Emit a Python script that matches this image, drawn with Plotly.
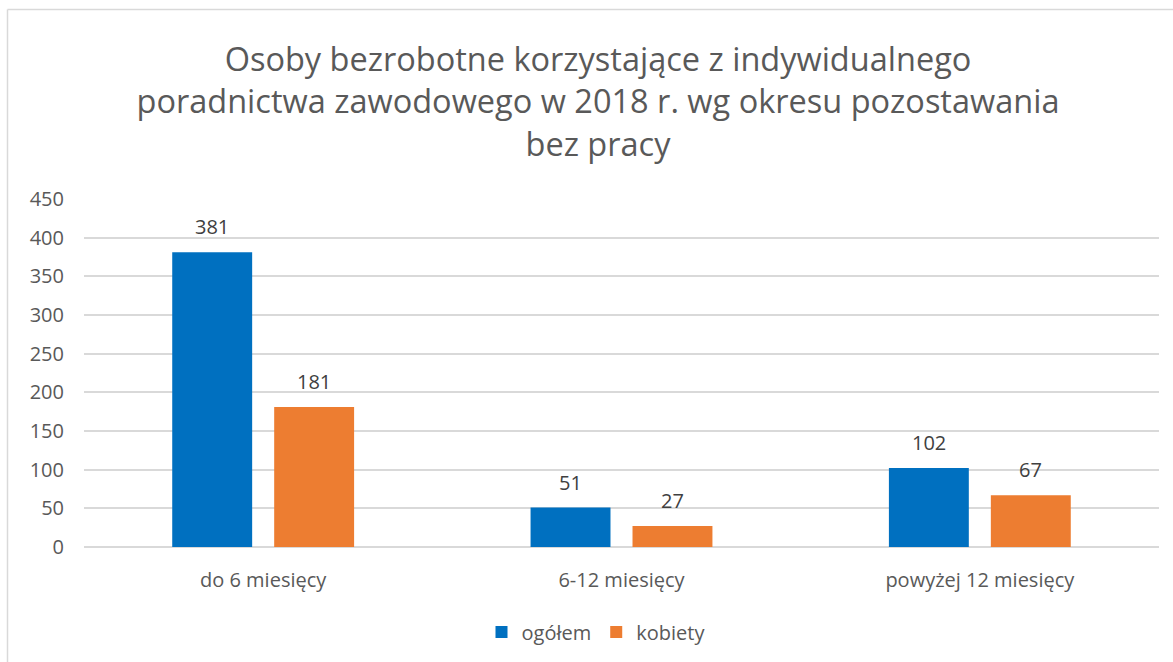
import plotly.graph_objects as go

categories = ["do 6 miesięcy", "6-12 miesięcy", "powyżej 12 miesięcy"]
series_names = ["ogółem", "kobiety"]
ogolem = [381, 51, 102]
kobiety = [181, 27, 67]
colors = ["#0070C0", "#ED7D31"]
y_ticks = list(range(0, 451, 50))
title_text = ("Osoby bezrobotne korzystające z indywidualnego<br>"
              "poradnictwa zawodowego w 2018 r. wg okresu pozostawania<br>"
              "bez pracy")

FONT = "Open Sans"
W, H = 1173, 662
ml, mr, mt, mb = 84, 14, 199, 114
pw = W - ml - mr
ph = H - mt - mb

fig = go.Figure()
for name, vals, col in zip(series_names, [ogolem, kobiety], colors):
    fig.add_trace(go.Bar(name=name, x=categories, y=vals, marker_color=col,
                         marker_line_width=0, hoverinfo="skip"))

# data labels
slot = (1 - 0.431) * pw / 3 / 2
for i, vals in enumerate([ogolem, kobiety]):
    shift = (i - 0.5) * slot
    for c, v in zip(categories, vals):
        fig.add_annotation(x=c, y=v, text=str(v), showarrow=False,
                           xshift=shift, yshift=10, yanchor="bottom",
                           font=dict(family=FONT, size=20, color="#404040"))

# outer chart border (partially cropped)
bx = (7.5 - ml) / pw
by = 1 + (mt - 9) / ph
fig.add_shape(type="line", xref="paper", yref="paper", x0=bx, x1=bx, y0=-1, y1=by,
              line=dict(color="#D9D9D9", width=1.5))
fig.add_shape(type="line", xref="paper", yref="paper", x0=bx, x1=1.5, y0=by, y1=by,
              line=dict(color="#D9D9D9", width=1.5))

fig.update_layout(
    width=W, height=H,
    margin=dict(l=ml, r=mr, t=mt, b=mb),
    paper_bgcolor="white", plot_bgcolor="white",
    barmode="group", bargap=0.431, bargroupgap=0.216,
    title=dict(text=title_text, x=(598 - ml) / pw, xref="paper", xanchor="center",
               y=1 - 71 / H, yref="container", yanchor="middle",
               font=dict(family=FONT, size=32.5, color="#595959")),
    legend=dict(orientation="h", x=(596 - ml) / pw, xanchor="center",
                y=-(632 - (mt + ph)) / ph, yanchor="middle",
                font=dict(family=FONT, size=20, color="#595959"),
                itemwidth=30, tracegroupgap=0),
    showlegend=True,
    font=dict(family=FONT, color="#595959"),
)
fig.update_yaxes(range=[0, 450], tickvals=y_ticks, showgrid=True, gridcolor="#D9D9D9",
                 gridwidth=1.5, zeroline=True, zerolinecolor="#D9D9D9", zerolinewidth=1.5,
                 showline=False, ticks="", ticklabelstandoff=19,
                 tickfont=dict(family=FONT, size=20, color="#595959"))
fig.update_xaxes(showline=False, ticks="", ticklabelstandoff=19,
                 tickfont=dict(family=FONT, size=20, color="#595959"))

fig.write_html("out.html", config={"displayModeBar": False},
               post_script="document.body.style.margin='0px';")
